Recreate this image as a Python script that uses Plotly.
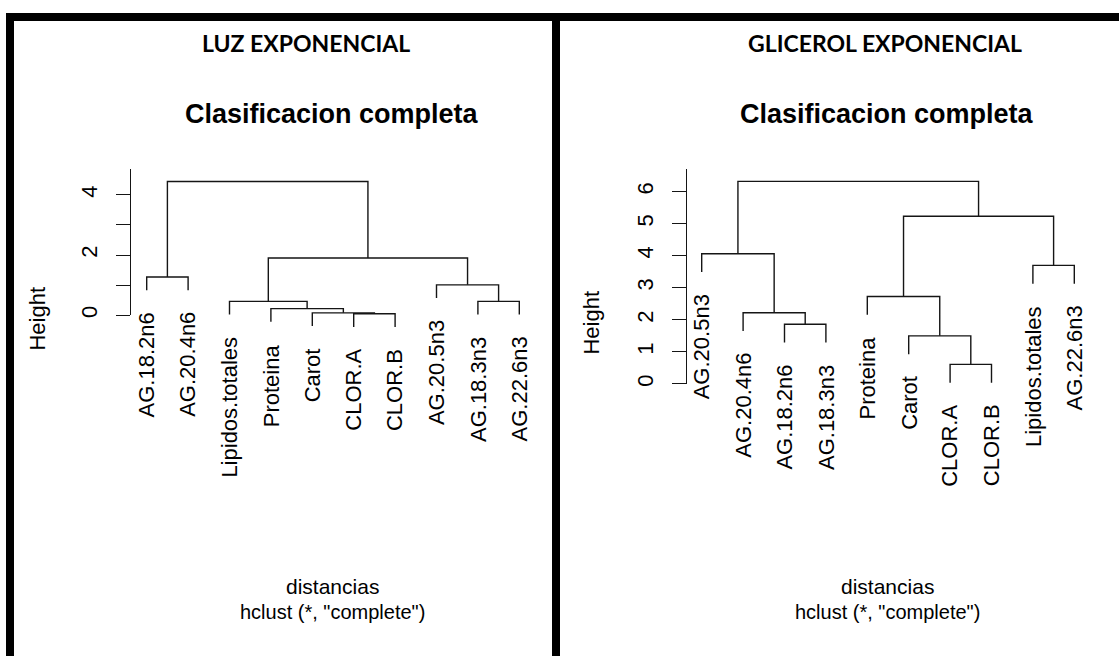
import plotly.graph_objects as go

W, H = 1119, 657

# ---------------- data ----------------
luz_labels = ["AG.18.2n6", "AG.20.4n6", "Lipidos.totales", "Proteina", "Carot",
              "CLOR.A", "CLOR.B", "AG.20.5n3", "AG.18.3n3", "AG.22.6n3"]
# merge steps (R hclust convention: negative = leaf position, positive = earlier step)
luz_merge_a = [-6, -5, -4, -3, -9, -8, -1, 4, 7]
luz_merge_b = [-7, 1, 2, 3, -10, 5, -2, 6, 8]
luz_heights = [0.05, 0.08, 0.22, 0.46, 0.46, 1.01, 1.27, 1.90, 4.44]
luz_tickvals = [0, 1, 2, 3, 4]
luz_ticktext = ["0", "", "2", "", "4"]

gli_labels = ["AG.20.5n3", "AG.20.4n6", "AG.18.2n6", "AG.18.3n3", "Proteina",
              "Carot", "CLOR.A", "CLOR.B", "Lipidos.totales", "AG.22.6n3"]
gli_merge_a = [-7, -6, -3, -2, -5, -9, -1, 5, 7]
gli_merge_b = [-8, 1, -4, 3, 2, -10, 4, 6, 8]
gli_heights = [0.61, 1.50, 1.86, 2.22, 2.73, 3.70, 4.06, 5.23, 6.32]
gli_tickvals = [0, 1, 2, 3, 4, 5, 6]
gli_ticktext = ["0", "1", "2", "3", "4", "5", "6"]

panel_titles = ["LUZ EXPONENCIAL", "GLICEROL EXPONENCIAL"]
main_title = "Clasificacion completa"
xlab = "distancias"
sub = 'hclust (*, "complete")'
ylab = "Height"

FONT = "Liberation Sans, Arial, sans-serif"


def dendro(ma, mb, hs):
    hang = 0.1 * (max(hs) - min(hs))
    node_x = {}
    xs, ys = [], []
    leaf_bottom = {}
    for k, (a, b, h) in enumerate(zip(ma, mb, hs), start=1):
        pts = []
        for c in (a, b):
            if c < 0:
                cx, cy = -c, h - hang
                leaf_bottom[-c] = cy
            else:
                cx, cy = node_x[c], hs[c - 1]
            pts.append((cx, cy))
        (x1, y1), (x2, y2) = pts
        xs += [x1, x1, x2, x2, None]
        ys += [y1, h, h, y2, None]
        node_x[k] = (x1 + x2) / 2
    return xs, ys, leaf_bottom


fig = go.Figure()
annotations = []
layout = {}

panels = [
    dict(labels=luz_labels, ma=luz_merge_a, mb=luz_merge_b, hs=luz_heights,
         tv=luz_tickvals, tt=luz_ticktext, title=panel_titles[0],
         axis_px=131.0, leaf1_px=146.7, step_px=41.4, zero_px=316.7, unit_px=30.25,
         top_px=170.0, right_px=545.0, cx=332, ylab_x=38, ylab_y=320, ptitle_x=306),
    dict(labels=gli_labels, ma=gli_merge_a, mb=gli_merge_b, hs=gli_heights,
         tv=gli_tickvals, tt=gli_ticktext, title=panel_titles[1],
         axis_px=687.3, leaf1_px=701.7, step_px=41.4, zero_px=385.7, unit_px=32.2,
         top_px=170.0, right_px=1100.0, cx=887, ylab_x=592, ylab_y=324, ptitle_x=885),
]

for i, p in enumerate(panels):
    xa = "x" if i == 0 else "x2"
    xkey = "xaxis" if i == 0 else "xaxis2"
    yvis = 1 + 2 * i          # visible axis
    yden = 2 + 2 * i          # dendrogram axis
    yvis_name = "y" if yvis == 1 else f"y{yvis}"
    yden_name = f"y{yden}"

    xs, ys, leaf_bottom = dendro(p["ma"], p["mb"], p["hs"])
    fig.add_trace(go.Scatter(x=xs, y=ys, mode="lines", xaxis=xa, yaxis=yden_name,
                             line=dict(color="#151515", width=1.4),
                             hoverinfo="skip", showlegend=False))
    # empty trace so the visible Height axis subplot is created
    fig.add_trace(go.Scatter(x=[None], y=[None], mode="lines", xaxis=xa, yaxis=yvis_name,
                             hoverinfo="skip", showlegend=False))

    x0 = 1 - (p["leaf1_px"] - p["axis_px"]) / p["step_px"]
    x1 = 1 + (p["right_px"] - p["leaf1_px"]) / p["step_px"]
    layout[xkey] = dict(domain=[p["axis_px"] / W, p["right_px"] / W], range=[x0, x1],
                        visible=False, anchor=yvis_name, fixedrange=True)
    layout["yaxis" if yvis == 1 else f"yaxis{yvis}"] = dict(
        domain=[(H - p["zero_px"]) / H, (H - p["top_px"]) / H],
        range=[0, (p["zero_px"] - p["top_px"]) / p["unit_px"]],
        anchor=xa, showline=True, linecolor="#151515", linewidth=1.4,
        ticks="outside", ticklen=14, tickwidth=1.4, tickcolor="#151515",
        tickvals=p["tv"], ticktext=p["tt"], tickangle=-90,
        tickfont=dict(family=FONT, size=22, color="black"),
        ticklabelstandoff=10, showgrid=False, zeroline=False, fixedrange=True)
    layout[f"yaxis{yden}"] = dict(
        domain=[0, 1], range=[(p["zero_px"] - H) / p["unit_px"], p["zero_px"] / p["unit_px"]],
        anchor=xa, visible=False, fixedrange=True)

    for j, lab in enumerate(p["labels"], start=1):
        annotations.append(dict(x=j, y=leaf_bottom[j], xref=xa, yref=yden_name,
                                text=lab, showarrow=False, textangle=-90,
                                xanchor="center", yanchor="top", yshift=-20,
                                font=dict(family=FONT, size=22, color="black")))

    annotations += [
        dict(x=p["ptitle_x"] / W, y=1 - 43 / H, xref="paper", yref="paper", text=f"<b>{p['title']}</b>",
             showarrow=False, xanchor="center", yanchor="middle",
             font=dict(family="Lato, sans-serif", size=23, color="black")),
        dict(x=p["cx"] / W, y=1 - 115 / H, xref="paper", yref="paper", text=f"<b>{main_title}</b>",
             showarrow=False, xanchor="center", yanchor="middle",
             font=dict(family=FONT, size=27, color="black")),
        dict(x=p["cx"] / W, y=1 - 589 / H, xref="paper", yref="paper", text=xlab,
             showarrow=False, xanchor="center", yanchor="middle",
             font=dict(family=FONT, size=21, color="black")),
        dict(x=p["cx"] / W, y=1 - 615 / H, xref="paper", yref="paper", text=sub,
             showarrow=False, xanchor="center", yanchor="middle",
             font=dict(family=FONT, size=20, color="black")),
        dict(x=p["ylab_x"] / W, y=1 - p["ylab_y"] / H, xref="paper", yref="paper", text=ylab,
             showarrow=False, xanchor="center", yanchor="middle", textangle=-90,
             font=dict(family=FONT, size=22, color="black")),
    ]

# frame bands (document border around the two panels)
def band(x0, y0, x1, y1):
    return dict(type="rect", xref="paper", yref="paper", x0=x0 / W, x1=x1 / W,
                y0=1 - y1 / H, y1=1 - y0 / H, fillcolor="black", line=dict(width=0),
                layer="above")

shapes = [band(6, 13, W + 2, 21), band(6, 13, 14, H + 2), band(552, 13, 560, H + 2)]

fig.update_layout(width=W, height=H, margin=dict(l=0, r=0, t=0, b=0),
                  paper_bgcolor="white", plot_bgcolor="rgba(0,0,0,0)",
                  showlegend=False, annotations=annotations, shapes=shapes, **layout)

fig.write_html("out.html", config={"displayModeBar": False})
